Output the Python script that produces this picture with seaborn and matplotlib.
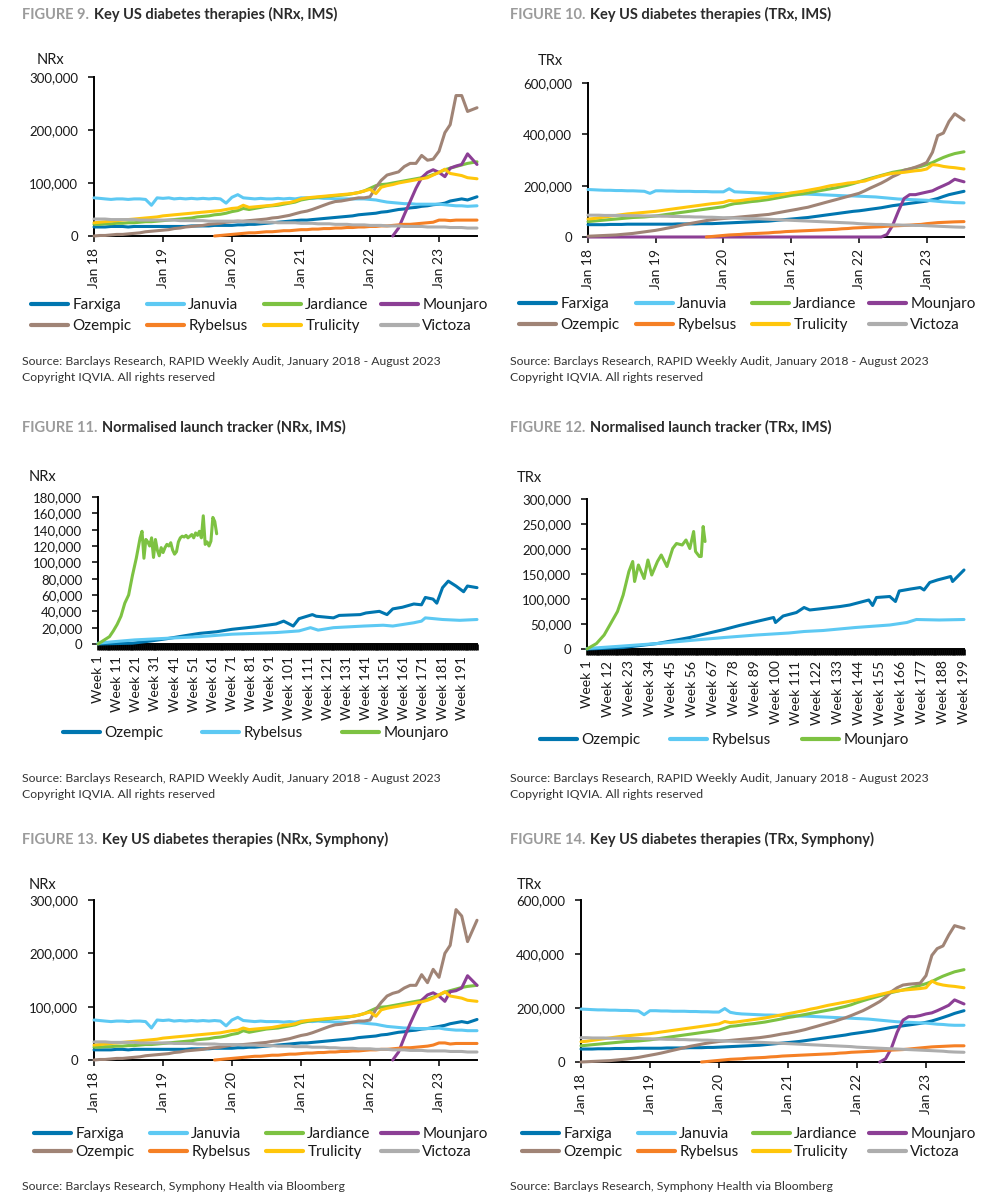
import numpy as np
import pandas as pd
import seaborn as sns
import matplotlib.pyplot as plt
import matplotlib.dates as mdates
from matplotlib.lines import Line2D
from matplotlib.text import Annotation
from matplotlib.ticker import FixedLocator, FuncFormatter

sns.set_style('ticks')
plt.rcParams['font.family'] = ['Lato', 'DejaVu Sans']

W, H = 981, 1196

# Monthly readings (thousands): Jan 2018 .. Jun 2023, plus the last weekly point
dates = pd.date_range('2018-01-01', '2023-06-01', freq='MS').append(pd.DatetimeIndex(['2023-07-21']))
end_date = pd.Timestamp('2023-07-21')

DRUGS = ['Farxiga', 'Januvia', 'Jardiance', 'Mounjaro', 'Ozempic', 'Rybelsus', 'Trulicity', 'Victoza']
COLORS = ['#0076B0', '#5DC9F3', '#7DC242', '#8C3F95', '#A08476', '#F58025', '#FFC60B', '#ADADAD']

# ---- Figure 9: NRx, IMS
nrx_ims_farxiga = [17, 17, 17, 18, 18, 18, 17, 18, 18, 18, 18, 18,
                   18, 18, 18, 18, 18, 19, 19, 19, 19, 20, 20, 20,
                   20, 21, 21, 22, 22, 23, 24, 25, 26, 27, 28, 29,
                   30, 30, 31, 32, 33, 34, 35, 36, 37, 38, 40, 41,
                   42, 43, 45, 46, 48, 50, 51, 53, 54, 56, 57, 59,
                   60, 62, 66, 68, 70, 68, 74]
nrx_ims_januvia = [72, 71, 70, 69, 70, 70, 69, 70, 70, 69, 58, 72,
                   71, 72, 70, 71, 70, 71, 70, 71, 70, 71, 70, 62,
                   73, 78, 72, 71, 70, 71, 70, 70, 71, 70, 71, 70,
                   72, 72, 71, 72, 71, 71, 70, 70, 70, 70, 70, 70,
                   69, 68, 66, 64, 63, 62, 61, 61, 60, 60, 60, 60,
                   60, 59, 58, 57, 57, 56, 57]
nrx_ims_jardiance = [22, 22, 23, 23, 24, 24, 25, 25, 26, 27, 27, 28,
                     29, 30, 31, 32, 33, 34, 36, 37, 38, 40, 41, 43,
                     46, 48, 52, 50, 52, 54, 56, 57, 58, 60, 62, 64,
                     68, 70, 72, 73, 74, 75, 76, 77, 78, 80, 82, 85,
                     90, 95, 97, 98, 100, 102, 104, 106, 108, 110, 112, 116,
                     120, 125, 128, 131, 134, 137, 140]
nrx_ims_mounjaro = [None] * 52 + [0, 15, 40, 65, 90, 110, 120, 125,
                                  120, 112, 128, 132, 135, 155, 135]
nrx_ims_ozempic = [0, 1, 1, 2, 3, 3, 4, 5, 6, 8, 9, 10,
                   11, 12, 14, 15, 17, 18, 19, 20, 22, 23, 24, 26,
                   27, 28, 28, 29, 30, 31, 32, 34, 35, 37, 39, 42,
                   45, 47, 50, 54, 58, 62, 65, 66, 68, 70, 72, 72,
                   74, 92, 105, 115, 118, 121, 131, 137, 137, 152, 143, 145,
                   160, 195, 210, 265, 265, 235, 242]
nrx_ims_rybelsus = [None] * 21 + [0, 1, 2,
                                  3, 4, 5, 6, 6, 7, 8, 8, 9, 10, 10, 11,
                                  12, 12, 13, 13, 14, 14, 15, 15, 16, 16, 17, 17,
                                  18, 18, 19, 19, 20, 21, 22, 22, 23, 24, 25, 26,
                                  30, 30, 29, 30, 30, 30, 30]
nrx_ims_trulicity = [25, 26, 27, 28, 29, 30, 31, 32, 33, 34, 35, 36,
                     38, 39, 40, 41, 42, 43, 44, 45, 46, 47, 48, 50,
                     52, 53, 58, 54, 55, 56, 57, 58, 60, 62, 63, 66,
                     70, 72, 73, 74, 75, 76, 77, 78, 79, 80, 82, 85,
                     88, 80, 92, 95, 97, 100, 102, 104, 106, 108, 110, 115,
                     120, 126, 118, 116, 114, 110, 108]
nrx_ims_victoza = [32, 32, 32, 31, 31, 31, 31, 31, 30, 30, 30, 30,
                   30, 30, 30, 29, 29, 29, 29, 29, 28, 28, 28, 28,
                   28, 28, 27, 27, 27, 26, 26, 26, 25, 25, 25, 25,
                   24, 24, 24, 23, 23, 23, 22, 22, 22, 21, 21, 21,
                   20, 20, 20, 19, 19, 19, 18, 18, 18, 18, 17, 17,
                   17, 17, 16, 16, 16, 15, 15]

# ---- Figure 10: TRx, IMS
trx_ims_farxiga = [48, 48, 48, 48, 49, 49, 49, 50, 50, 50, 50, 50,
                   50, 50, 50, 50, 51, 51, 51, 51, 52, 52, 52, 53,
                   54, 55, 56, 57, 58, 59, 60, 61, 62, 64, 66, 68,
                   70, 72, 74, 76, 79, 82, 85, 88, 91, 94, 97, 100,
                   102, 105, 108, 111, 114, 118, 122, 125, 128, 131, 134, 137,
                   140, 145, 150, 158, 165, 170, 178]
trx_ims_januvia = [185, 184, 183, 182, 182, 181, 181, 180, 180, 179, 178, 170,
                   180, 180, 179, 179, 178, 178, 178, 177, 177, 177, 176, 176,
                   176, 188, 176, 175, 174, 173, 172, 171, 170, 170, 169, 169,
                   168, 168, 167, 167, 166, 165, 164, 163, 162, 161, 160, 160,
                   159, 158, 157, 156, 154, 152, 150, 148, 147, 146, 145, 144,
                   143, 141, 139, 137, 136, 134, 133]
trx_ims_jardiance = [60, 62, 64, 66, 68, 70, 72, 74, 76, 77, 78, 80,
                     82, 85, 88, 91, 94, 97, 100, 103, 106, 109, 112, 115,
                     118, 125, 130, 132, 135, 138, 140, 143, 146, 150, 154, 158,
                     162, 165, 168, 172, 176, 180, 184, 188, 192, 197, 202, 208,
                     215, 222, 228, 234, 240, 246, 252, 256, 260, 265, 270, 275,
                     282, 290, 300, 310, 318, 325, 332]
trx_ims_mounjaro = [0] * 52 + [0, 10, 45, 100, 150, 165, 165, 170,
                               175, 180, 190, 200, 210, 225, 215]
trx_ims_ozempic = [3, 4, 5, 6, 7, 8, 10, 12, 14, 17, 20, 23,
                   26, 30, 34, 38, 43, 48, 52, 56, 60, 64, 67, 70,
                   72, 74, 76, 78, 80, 82, 84, 86, 88, 92, 96, 100,
                   104, 108, 112, 116, 122, 128, 134, 140, 146, 152, 158, 164,
                   170, 180, 190, 200, 210, 222, 235, 245, 260, 265, 272, 280,
                   290, 330, 395, 405, 450, 480, 455]
trx_ims_rybelsus = [None] * 21 + [0, 2, 4,
                                  6, 8, 9, 10, 12, 13, 14, 15, 16, 18, 19, 21,
                                  22, 23, 24, 25, 26, 27, 28, 29, 30, 32, 33, 35,
                                  36, 37, 38, 39, 40, 42, 43, 44, 45, 46, 48, 49,
                                  52, 54, 56, 57, 58, 59, 60]
trx_ims_trulicity = [70, 72, 75, 78, 81, 84, 87, 90, 92, 94, 96, 98,
                     100, 103, 106, 109, 112, 115, 118, 121, 124, 127, 130, 132,
                     135, 142, 140, 142, 145, 148, 150, 153, 156, 160, 164, 168,
                     172, 175, 178, 182, 186, 190, 195, 200, 203, 206, 210, 212,
                     215, 218, 225, 232, 238, 244, 248, 250, 252, 255, 258, 260,
                     265, 282, 280, 275, 272, 270, 265]
trx_ims_victoza = [85, 85, 85, 84, 84, 84, 84, 83, 83, 83, 82, 82,
                   82, 81, 81, 80, 80, 79, 79, 78, 78, 77, 77, 76,
                   75, 75, 74, 73, 72, 72, 71, 70, 69, 68, 67, 66,
                   65, 64, 63, 62, 61, 60, 59, 58, 57, 56, 55, 54,
                   52, 51, 50, 49, 49, 48, 47, 47, 46, 46, 45, 45,
                   44, 43, 42, 41, 40, 39, 38]

# ---- Figure 13: NRx, Symphony
nrx_sym_farxiga = [19, 19, 19, 19, 20, 20, 19, 20, 20, 20, 20, 20,
                   20, 20, 20, 20, 20, 21, 21, 21, 21, 22, 22, 22,
                   22, 23, 23, 24, 24, 25, 26, 27, 28, 29, 30, 31,
                   32, 32, 33, 34, 35, 36, 37, 38, 39, 40, 42, 43,
                   44, 45, 47, 48, 50, 52, 53, 55, 56, 58, 59, 61,
                   63, 65, 68, 70, 72, 70, 76]
nrx_sym_januvia = [75, 74, 73, 72, 73, 73, 72, 73, 73, 72, 60, 75,
                   74, 75, 73, 74, 73, 74, 73, 74, 73, 74, 73, 64,
                   75, 80, 74, 73, 72, 73, 72, 72, 72, 71, 72, 71,
                   73, 73, 72, 73, 72, 72, 71, 71, 70, 70, 70, 69,
                   68, 67, 65, 63, 62, 61, 60, 60, 59, 59, 59, 59,
                   60, 58, 57, 56, 56, 55, 55]
nrx_sym_jardiance = [24, 24, 25, 25, 26, 26, 27, 27, 28, 29, 29, 30,
                     31, 32, 33, 34, 35, 36, 38, 39, 40, 42, 43, 45,
                     48, 50, 55, 52, 54, 56, 58, 59, 60, 62, 64, 66,
                     70, 72, 74, 75, 76, 77, 78, 79, 80, 82, 84, 87,
                     92, 97, 99, 100, 102, 104, 106, 108, 110, 112, 114, 118,
                     122, 127, 130, 133, 136, 138, 140]
nrx_sym_mounjaro = [None] * 52 + [0, 15, 42, 68, 92, 112, 122, 126,
                                  120, 110, 128, 130, 135, 158, 140]
nrx_sym_ozempic = [0, 1, 1, 2, 3, 3, 4, 5, 6, 8, 9, 10,
                   11, 12, 14, 15, 17, 18, 19, 20, 22, 23, 24, 26,
                   28, 29, 29, 30, 31, 32, 33, 35, 36, 38, 40, 43,
                   46, 48, 51, 55, 59, 63, 66, 67, 69, 71, 73, 73,
                   75, 95, 108, 120, 125, 128, 135, 140, 140, 160, 145, 170,
                   155, 200, 215, 282, 270, 222, 262]
nrx_sym_rybelsus = [None] * 21 + [0, 1, 2,
                                  3, 4, 5, 6, 7, 7, 8, 9, 9, 10, 11, 11,
                                  12, 13, 13, 14, 14, 15, 15, 16, 16, 17, 17, 18,
                                  19, 19, 20, 20, 21, 22, 23, 23, 24, 25, 26, 28,
                                  32, 32, 30, 31, 31, 31, 31]
nrx_sym_trulicity = [28, 29, 30, 31, 32, 33, 34, 35, 36, 37, 38, 39,
                     41, 42, 43, 44, 45, 46, 47, 48, 49, 50, 51, 53,
                     55, 56, 60, 57, 58, 59, 60, 61, 63, 65, 66, 68,
                     72, 74, 75, 76, 77, 78, 79, 80, 81, 82, 84, 87,
                     90, 82, 94, 97, 99, 101, 103, 105, 107, 109, 112, 116,
                     122, 128, 120, 118, 116, 112, 110]
nrx_sym_victoza = [34, 34, 34, 33, 33, 33, 33, 33, 32, 32, 32, 32,
                   32, 32, 31, 31, 31, 31, 30, 30, 30, 30, 29, 29,
                   29, 29, 28, 28, 28, 27, 27, 27, 26, 26, 26, 25,
                   25, 25, 24, 24, 24, 23, 23, 22, 22, 22, 21, 21,
                   21, 20, 20, 20, 19, 19, 19, 18, 18, 18, 17, 17,
                   17, 17, 16, 16, 16, 15, 15]

# ---- Figure 14: TRx, Symphony
trx_sym_farxiga = [48, 48, 48, 49, 49, 49, 50, 50, 50, 50, 51, 51,
                   51, 51, 51, 52, 52, 52, 52, 53, 53, 53, 54, 54,
                   55, 56, 57, 58, 59, 60, 61, 62, 64, 66, 68, 70,
                   72, 74, 76, 79, 82, 85, 88, 91, 94, 97, 100, 104,
                   107, 110, 113, 116, 120, 124, 128, 131, 134, 137, 140, 143,
                   147, 152, 158, 165, 172, 180, 190]
trx_sym_januvia = [196, 195, 194, 193, 193, 192, 192, 191, 191, 190, 189, 175,
                   190, 190, 189, 189, 188, 188, 188, 187, 187, 186, 186, 185,
                   185, 198, 184, 180, 178, 177, 176, 175, 174, 174, 173, 172,
                   171, 171, 170, 170, 169, 168, 167, 166, 165, 164, 163, 162,
                   161, 160, 159, 157, 155, 153, 151, 149, 148, 147, 146, 145,
                   144, 142, 140, 139, 137, 136, 136]
trx_sym_jardiance = [60, 62, 64, 66, 68, 70, 72, 74, 76, 77, 78, 80,
                     82, 85, 88, 91, 94, 97, 100, 103, 106, 109, 112, 115,
                     118, 125, 132, 134, 137, 140, 142, 145, 148, 152, 156, 160,
                     165, 168, 172, 176, 180, 184, 188, 192, 196, 201, 206, 212,
                     220, 227, 233, 239, 245, 251, 257, 262, 267, 272, 278, 284,
                     290, 298, 308, 318, 326, 334, 342]
trx_sym_mounjaro = [None] * 52 + [0, 12, 50, 110, 155, 168, 168, 172,
                                  178, 182, 190, 200, 210, 230, 215]
trx_sym_ozempic = [0, 1, 2, 3, 4, 5, 7, 9, 11, 14, 17, 21,
                   25, 29, 33, 38, 43, 48, 53, 58, 62, 66, 70, 73,
                   76, 78, 80, 82, 84, 86, 88, 90, 93, 96, 100, 104,
                   107, 111, 115, 120, 126, 132, 138, 144, 150, 157, 164, 172,
                   181, 190, 200, 212, 224, 240, 260, 275, 285, 288, 290, 292,
                   320, 395, 420, 430, 470, 505, 495]
trx_sym_rybelsus = [None] * 21 + [0, 2, 4,
                                  6, 8, 10, 11, 12, 14, 15, 16, 17, 19, 20, 22,
                                  23, 24, 25, 26, 27, 28, 29, 30, 31, 33, 34, 36,
                                  37, 38, 39, 40, 42, 43, 44, 45, 46, 48, 50, 52,
                                  54, 56, 57, 58, 59, 60, 60]
trx_sym_trulicity = [75, 77, 80, 83, 86, 89, 92, 95, 97, 99, 101, 103,
                     105, 108, 111, 114, 117, 120, 123, 126, 129, 132, 135, 138,
                     141, 150, 146, 148, 151, 154, 157, 160, 163, 167, 171, 175,
                     179, 183, 187, 191, 196, 200, 205, 210, 214, 218, 222, 226,
                     230, 235, 240, 245, 250, 255, 260, 263, 266, 268, 270, 272,
                     275, 300, 290, 285, 282, 280, 275]
trx_sym_victoza = [90, 90, 89, 89, 89, 88, 88, 88, 87, 87, 87, 86,
                   86, 85, 85, 84, 84, 83, 83, 82, 82, 81, 81, 80,
                   79, 78, 77, 76, 75, 75, 74, 73, 72, 71, 70, 69,
                   68, 67, 66, 65, 64, 63, 62, 61, 60, 59, 58, 57,
                   55, 54, 53, 52, 51, 50, 49, 48, 47, 46, 45, 44,
                   43, 42, 41, 40, 38, 37, 36]

# ---- Launch trackers (week since launch, thousands)
LAUNCH = ['Ozempic', 'Rybelsus', 'Mounjaro']
LAUNCH_COLORS = ['#0076B0', '#5DC9F3', '#7DC242']

l_nrx_ozempic_wk = [1, 10, 19, 28, 37, 46, 54, 63, 71, 83, 94, 98, 103, 106, 113, 115, 124, 127,
                    138, 141, 148, 152, 155, 160, 166, 170, 172, 176, 178, 181, 184, 188, 192, 194, 199]
l_nrx_ozempic = [0, 0.5, 1, 3.5, 6.5, 10, 13, 15, 18, 21, 24.5, 28, 22, 31, 36, 34, 32, 35,
                 36, 38, 40, 36, 43, 45, 49, 48, 57, 55, 50, 69, 77, 71, 64, 71, 69]
l_nrx_rybelsus_wk = [1, 10, 20, 37, 54, 71, 94, 106, 112, 116, 124, 140, 150, 155, 166, 170, 172, 181, 190, 199]
l_nrx_rybelsus = [1, 3, 5, 7, 9, 12, 14, 16, 20, 17, 20, 22, 23, 22, 26, 28, 32, 30, 29, 30]
l_nrx_mounjaro_wk = [1, 3, 5, 7, 9, 11, 13, 15, 17, 19, 21, 23, 24, 25, 26, 27, 28, 29, 30, 31, 32,
                     33, 34, 35, 36, 37, 38, 39, 40, 41, 42, 43, 44, 45, 46, 47, 48, 49, 50, 51, 52,
                     53, 54, 55, 56, 57, 58, 59, 60, 61, 62, 63]
l_nrx_mounjaro = [0, 3, 6, 9, 16, 24, 34, 50, 60, 84, 105, 130, 138, 105, 128, 125, 120, 130, 106, 128, 115,
                  108, 118, 112, 118, 122, 120, 124, 115, 110, 113, 125, 130, 132, 131, 133, 130, 132, 134, 130, 136,
                  133, 138, 130, 157, 122, 125, 120, 126, 155, 150, 135]

l_trx_ozempic_wk = [1, 20, 38, 55, 73, 81, 90, 99, 100, 104, 111, 115, 118, 125, 134, 139, 142, 149, 151, 153,
                    160, 163, 165, 171, 176, 178, 181, 185, 192, 193, 199]
l_trx_ozempic = [0, 3, 11, 23, 39, 47, 55, 63, 53, 66, 73, 83, 78, 81, 85, 88, 91, 98, 87, 103,
                 105, 95, 116, 120, 123, 118, 133, 138, 145, 135, 158]
l_trx_rybelsus_wk = [1, 20, 38, 55, 73, 90, 107, 115, 125, 142, 160, 169, 174, 186, 199]
l_trx_rybelsus = [1, 6, 11, 17, 23, 28, 32, 35, 37, 43, 48, 53, 59, 58, 59]
l_trx_mounjaro_wk = [1, 6, 10, 13, 17, 20, 23, 25, 26, 28, 31, 33, 35, 38, 40, 43, 46, 48, 51, 53,
                     55, 57, 58, 60, 61, 62, 63]
l_trx_mounjaro = [0, 11, 28, 48, 75, 108, 155, 175, 135, 168, 141, 178, 148, 175, 188, 165, 201, 211, 208, 218,
                  201, 235, 195, 185, 185, 245, 215]

TXT = '#1a1a1a'
SOURCE_IMS = 'Source: Barclays Research, RAPID Weekly Audit, January 2018 - August 2023'
COPYRIGHT = 'Copyright IQVIA. All rights reserved'
SOURCE_SYM = 'Source: Barclays Research, Symphony Health via Bloomberg'


def fx(x):
    return x / W


def fy(y):
    return 1 - y / H


def add_axes(fig, left, top, right, bottom):
    return fig.add_axes([fx(left), fy(bottom), (right - left) / W, (bottom - top) / H])


def style_axes(ax, ymax, ystep):
    sns.despine(ax=ax)
    for s in ('left', 'bottom'):
        ax.spines[s].set_color('black')
        ax.spines[s].set_linewidth(1.4)
    ax.tick_params(axis='both', which='major', direction='out', length=4.3, width=1.1,
                   color='black', labelcolor=TXT)
    ax.tick_params(axis='y', pad=7, labelsize=9.5)
    ax.tick_params(axis='x', pad=4, labelsize=10)
    ax.set_ylim(0, ymax)
    ax.set_yticks(np.arange(0, ymax + 1, ystep))
    ax.yaxis.set_major_formatter(FuncFormatter(lambda v, p: f'{v:,.0f}'))
    ax.set_xlabel('')
    ax.set_ylabel('')
    # series are drawn over the axis line, as in the source charts
    for ln in ax.lines:
        ln.set_clip_on(False)
        ln.set_zorder(3)


def title(fig, x, y, num, rest):
    t = fig.text(fx(x), fy(y), f'FIGURE {num}.', color='#9b9b9b', fontsize=10.5, fontweight='bold',
                 va='baseline')
    fig.add_artist(Annotation(rest, xy=(1, fy(y)), xycoords=(t, 'figure fraction'),
                              xytext=(3.5, 0), textcoords='offset points', va='baseline',
                              color='#2b2b2b', fontsize=10.5, fontweight='bold'))


def legends(fig, names, colors, xs, ys, spacing):
    ncol = len(xs)
    for j, x in enumerate(xs):
        idx = [j + r * ncol for r in range(len(ys)) if j + r * ncol < len(names)]
        handles = [Line2D([], [], color=colors[i], lw=3, solid_capstyle='round') for i in idx]
        fig.legend(handles, [names[i] for i in idx], loc='center left',
                   bbox_to_anchor=(fx(x), fy(np.mean(ys) + 2)), frameon=False, borderpad=0,
                   borderaxespad=0, handlelength=2.45, handletextpad=0.25, labelspacing=spacing,
                   fontsize=11, labelcolor=TXT)


def drug_panel(fig, box, series, ymax, ystep):
    ax = add_axes(fig, *box)
    df = pd.concat([pd.DataFrame({'date': dates, 'value': np.array(v, dtype=float) * 1000, 'drug': d})
                    for d, v in zip(DRUGS, series)], ignore_index=True)
    sns.lineplot(data=df, x='date', y='value', hue='drug', hue_order=DRUGS, palette=COLORS,
                 linewidth=2.2, errorbar=None, legend=False, ax=ax)
    ax.set_xlim(dates[0], end_date)
    ax.xaxis.set_major_locator(mdates.YearLocator())
    ax.xaxis.set_major_formatter(mdates.DateFormatter('%b %y'))
    style_axes(ax, ymax, ystep)
    plt.setp(ax.get_xticklabels(), rotation=90)
    return ax


def launch_panel(fig, box, series, ymax, ystep, label_step):
    ax = add_axes(fig, *box)
    df = pd.concat([pd.DataFrame({'week': w, 'value': np.array(v, dtype=float) * 1000, 'drug': d})
                    for d, (w, v) in zip(LAUNCH, series)], ignore_index=True)
    sns.lineplot(data=df, x='week', y='value', hue='drug', hue_order=LAUNCH, palette=LAUNCH_COLORS,
                 linewidth=2.2, errorbar=None, legend=False, ax=ax)
    ax.set_xlim(1, 199)
    ax.xaxis.set_major_locator(FixedLocator(list(range(1, 200, label_step))))
    ax.xaxis.set_minor_locator(FixedLocator(list(range(1, 200))))
    ax.xaxis.set_major_formatter(FuncFormatter(lambda v, p: f'Week {int(round(v))}'))
    style_axes(ax, ymax, ystep)
    # one tick per week: so dense it reads as a solid black band
    ax.tick_params(axis='x', which='both', direction='out', length=4.3, width=1.9, color='black')
    plt.setp(ax.get_xticklabels(), rotation=90)
    return ax


fig = plt.figure(figsize=(W / 100, H / 100), dpi=100)

# Row 1
drug_panel(fig, (94, 77, 477, 236),
           [nrx_ims_farxiga, nrx_ims_januvia, nrx_ims_jardiance, nrx_ims_mounjaro,
            nrx_ims_ozempic, nrx_ims_rybelsus, nrx_ims_trulicity, nrx_ims_victoza], 300000, 100000)
drug_panel(fig, (588, 83, 964, 237),
           [trx_ims_farxiga, trx_ims_januvia, trx_ims_jardiance, trx_ims_mounjaro,
            trx_ims_ozempic, trx_ims_rybelsus, trx_ims_trulicity, trx_ims_victoza], 600000, 200000)
title(fig, 22, 19, 9, 'Key US diabetes therapies (NRx, IMS)')
title(fig, 510, 19, 10, 'Key US diabetes therapies (TRx, IMS)')
fig.text(fx(37), fy(60), 'NRx', fontsize=10.5, color=TXT, va='center')
fig.text(fx(538), fy(61), 'TRx', fontsize=10.5, color=TXT, va='center')
legends(fig, DRUGS, COLORS, [31, 147, 264, 381], [303, 324], 0.45)
legends(fig, DRUGS, COLORS, [519, 636, 752, 869], [302, 323], 0.45)
for x in (22, 510):
    fig.text(fx(x), fy(361), SOURCE_IMS, fontsize=8.8, color='#333333', va='center')
    fig.text(fx(x), fy(377), COPYRIGHT, fontsize=8.8, color='#333333', va='center')

# Row 2
launch_panel(fig, (98, 497, 477, 644),
             [(l_nrx_ozempic_wk, l_nrx_ozempic), (l_nrx_rybelsus_wk, l_nrx_rybelsus),
              (l_nrx_mounjaro_wk, l_nrx_mounjaro)], 180000, 20000, 10)
launch_panel(fig, (587, 499, 964, 649),
             [(l_trx_ozempic_wk, l_trx_ozempic), (l_trx_rybelsus_wk, l_trx_rybelsus),
              (l_trx_mounjaro_wk, l_trx_mounjaro)], 300000, 50000, 11)
title(fig, 22, 432, 11, 'Normalised launch tracker (NRx, IMS)')
title(fig, 510, 432, 12, 'Normalised launch tracker (TRx, IMS)')
fig.text(fx(29), fy(477), 'NRx', fontsize=10.5, color=TXT, va='center')
fig.text(fx(517), fy(478), 'TRx', fontsize=10.5, color=TXT, va='center')
legends(fig, LAUNCH, LAUNCH_COLORS, [63, 202, 342], [731], 0.25)
legends(fig, LAUNCH, LAUNCH_COLORS, [540, 670, 802], [738], 0.25)
for x in (22, 510):
    fig.text(fx(x), fy(778), SOURCE_IMS, fontsize=8.8, color='#333333', va='center')
    fig.text(fx(x), fy(794), COPYRIGHT, fontsize=8.8, color='#333333', va='center')

# Row 3
drug_panel(fig, (94, 900, 477, 1060),
           [nrx_sym_farxiga, nrx_sym_januvia, nrx_sym_jardiance, nrx_sym_mounjaro,
            nrx_sym_ozempic, nrx_sym_rybelsus, nrx_sym_trulicity, nrx_sym_victoza], 300000, 100000)
drug_panel(fig, (581, 900, 964, 1062),
           [trx_sym_farxiga, trx_sym_januvia, trx_sym_jardiance, trx_sym_mounjaro,
            trx_sym_ozempic, trx_sym_rybelsus, trx_sym_trulicity, trx_sym_victoza], 600000, 200000)
title(fig, 22, 844, 13, 'Key US diabetes therapies (NRx, Symphony)')
title(fig, 510, 844, 14, 'Key US diabetes therapies (TRx, Symphony)')
fig.text(fx(29), fy(885), 'NRx', fontsize=10.5, color=TXT, va='center')
fig.text(fx(517), fy(885), 'TRx', fontsize=10.5, color=TXT, va='center')
legends(fig, DRUGS, COLORS, [34, 150, 266, 381], [1132, 1150], 0.25)
legends(fig, DRUGS, COLORS, [522, 638, 753, 869], [1132, 1150], 0.25)
for x in (22, 510):
    fig.text(fx(x), fy(1187), SOURCE_SYM, fontsize=8.8, color='#333333', va='center')

fig.savefig('out.png', dpi=100, facecolor='white')
